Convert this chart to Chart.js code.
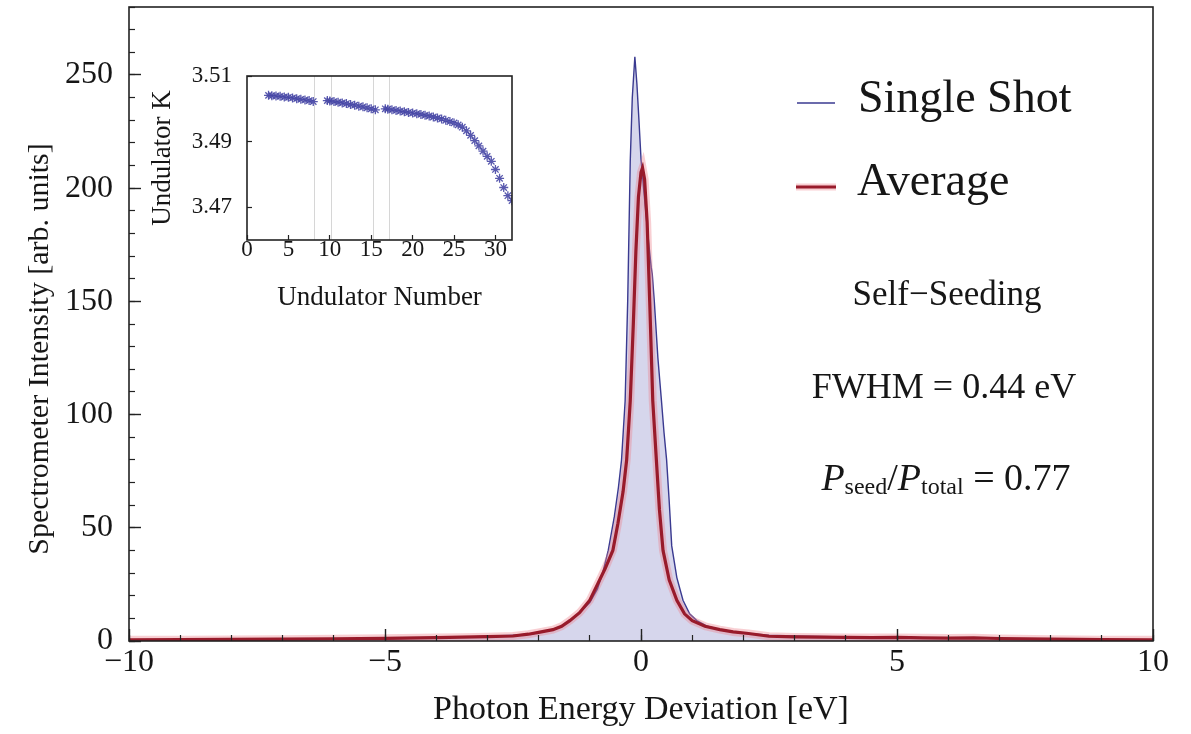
<!DOCTYPE html>
<html><head><meta charset="utf-8">
<script src="https://cdn.jsdelivr.net/npm/chart.js@4.4.1/dist/chart.umd.min.js"></script>
<style>
html,body{margin:0;padding:0;background:#fff;}
#wrap{position:relative;width:1191px;height:734px;overflow:hidden;}
#main{position:absolute;left:0;top:0;}
#inset{position:absolute;left:140px;top:50px;}
</style></head><body>
<div id="wrap"><canvas id="main" width="1191" height="734"></canvas><canvas id="inset" width="385" height="270"></canvas></div>
<script>
// ---------------- DATA ----------------
const singleX = [-10,-9,-8,-7,-6,-5,-4,-3.5,-3,-2.5,-2.2,-2.0,-1.72,-1.55,-1.39,-1.2,-1.0,-0.85,-0.75,-0.64,-0.52,-0.44,-0.38,-0.31,-0.26,-0.21,-0.17,-0.12,-0.08,-0.04,0.0,0.05,0.1,0.15,0.2,0.22,0.26,0.33,0.4,0.45,0.5,0.55,0.6,0.7,0.82,0.95,1.09,1.3,1.55,1.8,2.1,2.5,3,3.5,4,4.5,5,5.5,6,6.5,7,8,9,10];
const singleY = [0.3,0.4,0.5,0.6,0.8,1.0,1.4,1.7,2.1,2.6,3.0,3.6,5,6.5,9,12.5,17,23,30,40,55,68,80,106,150,212,240,258,246,230,213,200,188,176,165,162,150,125,106,92,80,62,42,28,18,12,9,6.5,5,4,3.3,2.6,2.2,2.0,1.8,1.6,1.8,1.5,1.4,1.5,1.1,0.8,0.5,0.4];
const avgX = [-10,-9,-8,-7,-6,-5,-4,-3.5,-3,-2.5,-2.2,-2.0,-1.72,-1.55,-1.39,-1.2,-1.0,-0.85,-0.7,-0.55,-0.45,-0.35,-0.28,-0.21,-0.15,-0.1,-0.05,0.0,0.03,0.07,0.12,0.17,0.23,0.3,0.36,0.43,0.55,0.7,0.85,1.0,1.25,1.54,1.8,2.1,2.5,3,3.5,4,4.5,5,5.5,6,6.5,7,8,9,10];
const avgY = [0.5,0.6,0.7,0.8,1.0,1.2,1.5,1.7,1.9,2.2,3.0,3.8,5,6.5,9,12.5,18,25,32,40,52,66,80,106,140,172,196,207,209,204,185,150,106,80,58,40,27,18,12,9,6.5,5,4,3.3,2.1,1.8,1.7,1.6,1.5,1.6,1.4,1.3,1.4,1.1,0.8,0.6,0.5];
const xMajorTicks = [-10,-5,0,5,10];
const yMajorTicks = [0,50,100,150,200,250];

const undNum = [2.6,3.0,3.5,4.0,4.5,5.0,5.5,6.0,6.5,7.0,7.5,8.0,
  9.7,10.0,10.5,11.0,11.5,12.0,12.5,13.0,13.5,14.0,14.5,15.0,15.5,
  16.7,17.0,17.5,18.0,18.5,19.0,19.5,20.0,20.5,21.0,21.5,22.0,22.5,23.0,23.5,24.0,24.5,25.0,25.5,26.0,26.5,27.0,27.5,28.0,28.5,29.0,29.5,30.0,30.5,31.0,31.5,32.0];
const undK = [3.5041,3.5040,3.5039,3.5038,3.5036,3.5035,3.5033,3.5031,3.5029,3.5027,3.5025,3.5022,
  3.5025,3.5024,3.5022,3.5020,3.5018,3.5016,3.5013,3.5011,3.5008,3.5006,3.5003,3.5000,3.4997,
  3.5000,3.4999,3.4997,3.4995,3.4993,3.4991,3.4989,3.4987,3.4985,3.4983,3.4980,3.4978,3.4975,3.4972,3.4969,3.4965,3.4961,3.4957,3.4951,3.4944,3.4933,3.4919,3.4903,3.4887,3.4871,3.4855,3.4840,3.4815,3.4788,3.4760,3.4735,3.4720];
const breakLines = [8.2, 10.2, 15.3, 17.2];
const insetXTicks = [0,5,10,15,20,25,30];
const insetYTicks = [3.47,3.49,3.51];

const yTitle = 'Spectrometer Intensity [arb. units]';
const annSelf = 'Self\u2212Seeding';
const annFwhm = 'FWHM = 0.44 eV';
const annRatio = [['P','i'],['seed','s'],['/','n'],['P','i'],['total','s'],[' = 0.77','n']];

// ---------------- STYLE ----------------
const SERIF = "'Liberation Serif','Times New Roman','DejaVu Serif',serif";
const INK = '#161616';
const BLUE = '#3a3a90';
const RED = '#981b2b';
const HALO = 'rgba(236,130,140,0.38)';
const pts = (xs, ys) => xs.map((x, i) => ({x, y: ys[i]}));
const minus = v => String(v).replace('-', '\u2212');
const noPad = s => { s.paddingTop = 0; s.paddingBottom = 0; s.paddingLeft = 0; s.paddingRight = 0; };

const frame = {
  id: 'frame',
  afterDraw(chart) {
    const {ctx, chartArea: a} = chart;
    ctx.save();
    ctx.strokeStyle = '#222';
    ctx.lineWidth = 1.6;
    ctx.strokeRect(a.left, a.top, a.right - a.left, a.bottom - a.top);
    ctx.restore();
  }
};

const annot = {
  id: 'annot',
  afterDraw(chart) {
    const ctx = chart.ctx;
    const ds = chart.data.datasets;
    ctx.save();
    // y axis title
    ctx.fillStyle = INK;
    ctx.save();
    ctx.translate(40, 349);
    ctx.rotate(-Math.PI / 2);
    ctx.textAlign = 'center'; ctx.textBaseline = 'middle';
    ctx.font = `30px ${SERIF}`;
    ctx.fillText(yTitle, 0, 0);
    ctx.restore();
    // legend
    ctx.lineCap = 'butt';
    ctx.strokeStyle = BLUE; ctx.lineWidth = 1.5;
    ctx.beginPath(); ctx.moveTo(797, 103); ctx.lineTo(835, 103); ctx.stroke();
    ctx.strokeStyle = HALO; ctx.lineWidth = 7;
    ctx.beginPath(); ctx.moveTo(796, 187); ctx.lineTo(836, 187); ctx.stroke();
    ctx.strokeStyle = RED; ctx.lineWidth = 3;
    ctx.beginPath(); ctx.moveTo(796, 187); ctx.lineTo(836, 187); ctx.stroke();
    ctx.textAlign = 'left'; ctx.textBaseline = 'alphabetic';
    ctx.font = `46px ${SERIF}`;
    ctx.fillText(ds[0].label, 858, 112);
    ctx.fillText(ds[2].label, 857, 195);
    // annotations
    ctx.textAlign = 'center';
    ctx.font = `35px ${SERIF}`;
    ctx.fillText(annSelf, 947, 305);
    ctx.font = `36px ${SERIF}`;
    ctx.fillText(annFwhm, 944, 398);
    const fontFor = k => k === 'i' ? `italic 38px ${SERIF}` : (k === 's' ? `24px ${SERIF}` : `38px ${SERIF}`);
    let total = 0;
    annRatio.forEach(([t, k]) => { ctx.font = fontFor(k); total += ctx.measureText(t).width; });
    let x = 946 - total / 2;
    ctx.textAlign = 'left';
    annRatio.forEach(([t, k]) => {
      ctx.font = fontFor(k);
      ctx.fillText(t, x, k === 's' ? 494 : 490);
      x += ctx.measureText(t).width;
    });
    ctx.restore();
  }
};

// ---------------- MAIN CHART ----------------
new Chart(document.getElementById('main'), {
  type: 'line',
  data: {
    datasets: [
      {label: 'Single Shot', data: pts(singleX, singleY), borderColor: BLUE, borderWidth: 1.4,
       backgroundColor: 'rgb(214,214,236)', fill: 'origin', pointRadius: 0, tension: 0, order: 3},
      {label: 'Average halo', data: pts(avgX, avgY), borderColor: HALO, borderWidth: 8,
       fill: false, pointRadius: 0, tension: 0, order: 2},
      {label: 'Average', data: pts(avgX, avgY), borderColor: RED, borderWidth: 3.2,
       fill: false, pointRadius: 0, tension: 0, order: 1}
    ]
  },
  options: {
    responsive: false, animation: false, devicePixelRatio: 1,
    layout: {padding: {left: 0, top: 7, right: 38, bottom: 0}},
    plugins: {legend: {display: false}, tooltip: {enabled: false}},
    scales: {
      x: {
        type: 'linear', min: -10, max: 10, position: 'bottom', weight: 1,
        afterFit(s) { s.height = 93; noPad(s); },
        afterBuildTicks(s) { s.ticks = xMajorTicks.map(v => ({value: v})); },
        ticks: {callback: v => minus(v), font: {family: SERIF, size: 32}, color: INK, padding: 14, maxRotation: 0, autoSkip: false},
        grid: {drawOnChartArea: false, tickLength: -12, tickWidth: 1.4, tickColor: '#222', z: 1},
        border: {display: false},
        title: {display: true, text: 'Photon Energy Deviation [eV]', font: {family: SERIF, size: 34}, color: INK, padding: {top: 0, bottom: 4}}
      },
      xm: {
        type: 'linear', min: -10, max: 10, position: 'bottom', weight: 0,
        afterFit(s) { s.height = 0; noPad(s); },
        ticks: {display: false, stepSize: 1},
        grid: {drawOnChartArea: false, tickLength: -6, tickWidth: 1.2, tickColor: '#222', z: 1},
        border: {display: false}
      },
      y: {
        type: 'linear', min: 0, max: 280, position: 'left', weight: 1,
        afterFit(s) { s.width = 129; noPad(s); },
        afterBuildTicks(s) { s.ticks = yMajorTicks.map(v => ({value: v})); },
        ticks: {font: {family: SERIF, size: 32}, color: INK, padding: 28, autoSkip: false},
        grid: {drawOnChartArea: false, tickLength: -12, tickWidth: 1.4, tickColor: '#222', z: 1},
        border: {display: false},
        title: {display: false}
      },
      ym: {
        type: 'linear', min: 0, max: 280, position: 'left', weight: 0,
        afterFit(s) { s.width = 0; noPad(s); },
        ticks: {display: false, stepSize: 10},
        grid: {drawOnChartArea: false, tickLength: -6, tickWidth: 1.2, tickColor: '#222', z: 1},
        border: {display: false}
      }
    }
  },
  plugins: [frame, annot]
});

// ---------------- INSET ----------------
new Chart(document.getElementById('inset'), {
  type: 'scatter',
  data: {
    datasets: [{label: 'Undulator K', data: pts(undNum, undK), pointStyle: 'star', pointRadius: 4.5,
      borderColor: 'rgba(70,70,165,0.9)', backgroundColor: 'rgba(70,70,165,0.9)', borderWidth: 1.3, showLine: false}]
  },
  options: {
    responsive: false, animation: false, devicePixelRatio: 1,
    layout: {padding: {left: 0, top: 26, right: 13, bottom: 0}},
    plugins: {legend: {display: false}, tooltip: {enabled: false}},
    scales: {
      x: {
        type: 'linear', min: 0, max: 32, position: 'bottom', weight: 1,
        afterFit(s) { s.height = 80; noPad(s); },
        afterBuildTicks(s) { s.ticks = insetXTicks.map(v => ({value: v})); },
        ticks: {font: {family: SERIF, size: 23}, color: INK, padding: 1, maxRotation: 0, autoSkip: false},
        grid: {drawOnChartArea: false, tickLength: -5, tickWidth: 1.2, tickColor: '#222', z: 1},
        border: {display: false},
        title: {display: true, text: 'Undulator Number', font: {family: SERIF, size: 27}, color: INK, padding: {top: 0, bottom: 6}}
      },
      xg: {
        type: 'linear', min: 0, max: 32, position: 'bottom', weight: 0,
        afterFit(s) { s.height = 0; noPad(s); },
        afterBuildTicks(s) { s.ticks = breakLines.map(v => ({value: v})); },
        ticks: {display: false},
        grid: {drawOnChartArea: true, drawTicks: false, color: '#d6d6d6', lineWidth: 1},
        border: {display: false}
      },
      y: {
        type: 'linear', min: 3.46, max: 3.51, position: 'left',
        afterFit(s) { s.width = 107; noPad(s); },
        afterBuildTicks(s) { s.ticks = insetYTicks.map(v => ({value: v})); },
        ticks: {callback: v => v.toFixed(2), font: {family: SERIF, size: 23}, color: INK, padding: 20, autoSkip: false},
        grid: {drawOnChartArea: false, tickLength: -5, tickWidth: 1.2, tickColor: '#222', z: 1},
        border: {display: false},
        title: {display: true, text: 'Undulator K', font: {family: SERIF, size: 27}, color: INK, padding: {top: 7, bottom: 0}}
      }
    }
  },
  plugins: [frame]
});
</script>
</body></html>
